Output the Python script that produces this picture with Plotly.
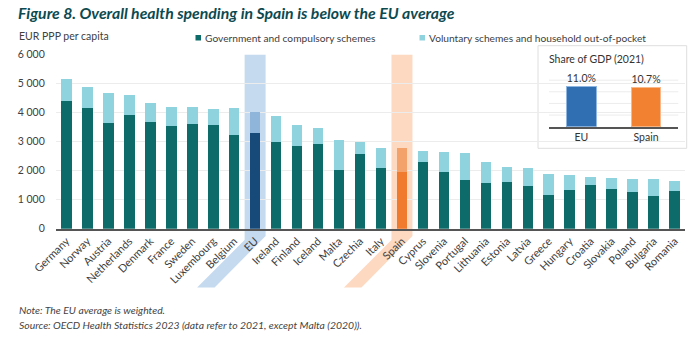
import plotly.graph_objects as go

# Health spending per capita (EUR PPP), 2021
countries = ["Germany", "Norway", "Austria", "Netherlands", "Denmark", "France", "Sweden",
             "Luxembourg", "Belgium", "EU", "Ireland", "Finland", "Iceland", "Malta", "Czechia",
             "Italy", "Spain", "Cyprus", "Slovenia", "Portugal", "Lithuania", "Estonia", "Latvia",
             "Greece", "Hungary", "Croatia", "Slovakia", "Poland", "Bulgaria", "Romania"]
government = [4400, 4160, 3645, 3910, 3670, 3550, 3600, 3590, 3220, 3310, 2980, 2850, 2910,
              2035, 2590, 2105, 1970, 2290, 1955, 1670, 1585, 1620, 1460, 1150, 1345, 1520,
              1380, 1255, 1115, 1300]
total = [5150, 4875, 4670, 4600, 4325, 4195, 4195, 4115, 4150, 4025, 3875, 3565, 3470,
         3060, 2980, 2785, 2770, 2665, 2655, 2620, 2300, 2115, 2095, 1875, 1860, 1780,
         1735, 1725, 1700, 1655]
voluntary = [t - g for t, g in zip(total, government)]

# Inset: health spending as share of GDP
gdp_labels = ["EU", "Spain"]
gdp_share = [11.0, 10.7]
gdp_grid = [3.2, 6.4, 9.6, 12.8]

W, H = 700, 340


def px_x(p):
    return p / W


def px_y(p):
    return 1 - p / H


TEAL = "#0d6b69"
LIGHT = "#8fd3de"
gov_colors = []
vol_colors = []
for c in countries:
    if c == "EU":
        gov_colors.append("#174a78")
        vol_colors.append("#8fb6da")
    elif c == "Spain":
        gov_colors.append("#f07a2e")
        vol_colors.append("#f4a26c")
    else:
        gov_colors.append(TEAL)
        vol_colors.append(LIGHT)

FONT = "Lato"
x_dom = [px_x(55.8), px_x(685.2)]
y_dom = [px_y(228.7), px_y(54.7)]

# inset vertical scale: zero line and pixels per percentage point
INSET_ZERO = 126.7
INSET_SCALE = 3.636
INSET_MAX = 13

fig = go.Figure()
fig.add_trace(go.Bar(x=countries, y=government, marker=dict(color=gov_colors, line=dict(width=0)),
                     name="Government and compulsory schemes", xaxis="x", yaxis="y"))
fig.add_trace(go.Bar(x=countries, y=voluntary, marker=dict(color=vol_colors, line=dict(width=0)),
                     name="Voluntary schemes and household out-of-pocket", xaxis="x", yaxis="y"))
fig.add_trace(go.Bar(x=gdp_labels, y=gdp_share,
                     marker=dict(color=["#2f6fb2", "#f28231"],
                                 line=dict(color=["#8fb6e0", "#f8b889"], width=1)),
                     text=[f"{v:.1f}%" for v in gdp_share], textposition="outside",
                     textfont=dict(family=FONT, size=10.5, color="#333333"),
                     cliponaxis=False, xaxis="x2", yaxis="y2", showlegend=False))

shapes = []

# Highlight bands for EU and Spain, following the category slot and the slanted label
n = len(countries)
slot = (x_dom[1] - x_dom[0]) * W / n
for name, fill in [("EU", "rgba(150,185,225,0.55)"), ("Spain", "rgba(250,180,130,0.5)")]:
    i = countries.index(name)
    xl = x_dom[0] * W + i * slot
    xr = xl + slot
    pts = [(xl, 54.7), (xr, 54.7), (xr, 236), (xr - 51, 287.5), (xl - 47.5, 287.5), (xl, 240)]
    path = "M " + " L ".join(f"{px_x(a):.5f},{px_y(b):.5f}" for a, b in pts) + " Z"
    shapes.append(dict(type="path", path=path, xref="paper", yref="paper",
                       fillcolor=fill, line=dict(width=0), layer="between"))

# Inset panel with its own light grid
shapes.append(dict(type="rect", xref="paper", yref="paper",
                   x0=px_x(538), x1=px_x(686.7), y0=px_y(148.3), y1=px_y(45.7),
                   fillcolor="white", line=dict(color="#dedede", width=1), layer="between"))
for gv in gdp_grid:
    yy = px_y(INSET_ZERO - gv * INSET_SCALE)
    shapes.append(dict(type="line", xref="paper", yref="paper", x0=px_x(549), x1=px_x(678.3),
                       y0=yy, y1=yy, line=dict(color="#ececec", width=1), layer="between"))

# Legend markers
shapes.append(dict(type="rect", xref="paper", yref="paper",
                   x0=px_x(195.5), x1=px_x(201), y0=px_y(40.5), y1=px_y(35), fillcolor=TEAL,
                   line=dict(width=0), layer="above"))
shapes.append(dict(type="rect", xref="paper", yref="paper",
                   x0=px_x(419.5), x1=px_x(425), y0=px_y(40.5), y1=px_y(35), fillcolor=LIGHT,
                   line=dict(width=0), layer="above"))

annotations = [
    dict(text="<b><i>Figure 8. Overall health spending in Spain is below the EU average</i></b>",
         x=px_x(16), y=px_y(13), xanchor="left", yanchor="middle",
         font=dict(family=FONT, size=15.8, color="#0d4a50")),
    dict(text="EUR PPP per capita", x=px_x(17), y=px_y(36), xanchor="left", yanchor="middle",
         font=dict(family=FONT, size=10.5, color="#404040")),
    dict(text="Government and compulsory schemes", x=px_x(202.5), y=px_y(37.5), xanchor="left",
         yanchor="middle", font=dict(family=FONT, size=10.2, color="#404040")),
    dict(text="Voluntary schemes and household out-of-pocket", x=px_x(426.5), y=px_y(37.5),
         xanchor="left", yanchor="middle", font=dict(family=FONT, size=10.2, color="#404040")),
    dict(text="Share of GDP (2021)", x=px_x(547), y=px_y(59), xanchor="left", yanchor="middle",
         font=dict(family=FONT, size=10.5, color="#333333")),
    dict(text="<i>Note: The EU average is weighted.</i>", x=px_x(17), y=px_y(309.5),
         xanchor="left", yanchor="middle", font=dict(family=FONT, size=10.4, color="#444444")),
    dict(text="<i>Source: OECD Health Statistics 2023 (data refer to 2021, except Malta (2020)).</i>",
         x=px_x(17), y=px_y(324.5), xanchor="left", yanchor="middle",
         font=dict(family=FONT, size=10.4, color="#444444")),
]
for a in annotations:
    a.update(xref="paper", yref="paper", showarrow=False)

fig.update_layout(
    width=W, height=H, margin=dict(l=0, r=0, t=0, b=0),
    paper_bgcolor="white", plot_bgcolor="rgba(0,0,0,0)",
    barmode="stack", bargap=0.49, showlegend=False,
    separators=". ",
    font=dict(family=FONT, size=10.5, color="#404040"),
    xaxis=dict(domain=x_dom, anchor="y", tickangle=-45, showgrid=False, showline=True,
               linecolor="#555555", linewidth=1.5, ticks="", automargin=False,
               tickfont=dict(family=FONT, size=11, color="#404040"), fixedrange=True),
    yaxis=dict(domain=y_dom, anchor="x", range=[0, 6000], dtick=1000, tickformat=",d",
               showgrid=True, gridcolor="#ececec", gridwidth=1, zeroline=False, showline=False,
               ticks="", ticklabelstandoff=10, automargin=False,
               tickfont=dict(family=FONT, size=10.5, color="#404040")),
    xaxis2=dict(domain=[px_x(549), px_x(678.3)], anchor="y2", showgrid=False, showline=True,
                linecolor="#555555", linewidth=1.5, ticks="", automargin=False,
                tickfont=dict(family=FONT, size=10.5, color="#333333")),
    yaxis2=dict(domain=[px_y(INSET_ZERO), px_y(INSET_ZERO - INSET_MAX * INSET_SCALE)],
                anchor="x2", range=[0, INSET_MAX],
                showgrid=False, zeroline=False, showline=False, showticklabels=False,
                automargin=False),
    shapes=shapes, annotations=annotations,
)
fig.update_traces(selector=dict(xaxis="x2"), width=0.46)

fig.write_html("out.html")
